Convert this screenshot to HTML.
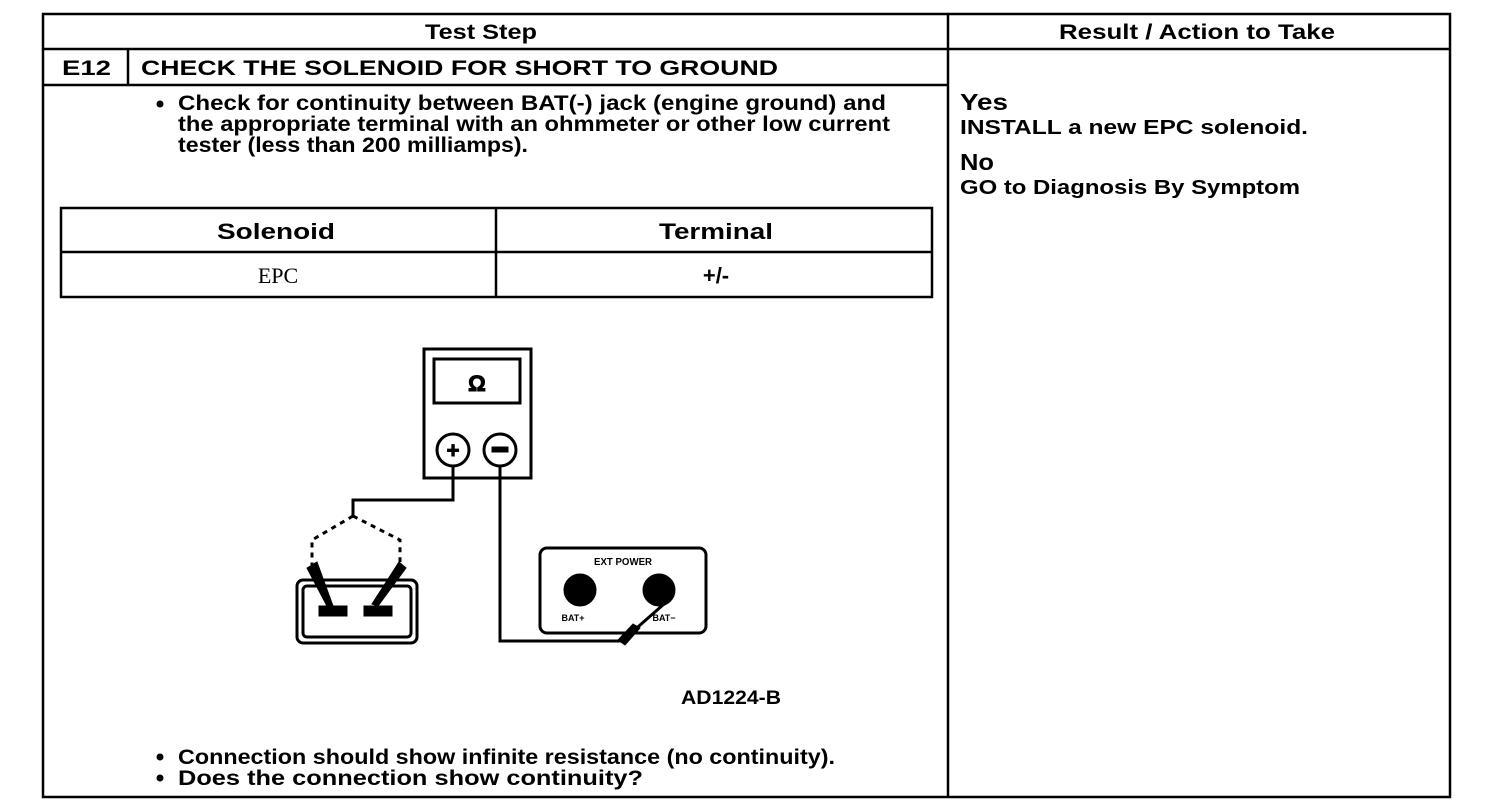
<!DOCTYPE html>
<html><head><meta charset="utf-8"><style>
html,body{margin:0;padding:0;background:#fff;}
svg{display:block;}
text{font-family:"Liberation Sans",Arial,sans-serif;font-weight:bold;fill:#000;}
</style></head><body>
<svg width="1504" height="812" viewBox="0 0 1504 812" xmlns="http://www.w3.org/2000/svg">
<g stroke="#000" fill="none" stroke-width="2.5">
<rect x="43" y="14" width="1407" height="783"/>
<line x1="43" y1="49" x2="1450" y2="49"/>
<line x1="948" y1="14" x2="948" y2="797"/>
<line x1="43" y1="85" x2="948" y2="85"/>
<line x1="128" y1="49" x2="128" y2="85"/>
<rect x="61" y="208" width="871" height="89"/>
<line x1="61" y1="252" x2="932" y2="252"/>
<line x1="496" y1="208" x2="496" y2="297"/>
</g>
<text x="481" y="39" text-anchor="middle" font-size="21" textLength="112" lengthAdjust="spacingAndGlyphs">Test Step</text>
<text x="1197" y="39" text-anchor="middle" font-size="21" textLength="276" lengthAdjust="spacingAndGlyphs">Result / Action to Take</text>
<text x="62" y="75" font-size="21" textLength="49" lengthAdjust="spacingAndGlyphs">E12</text>
<text x="141" y="75" font-size="21" textLength="637" lengthAdjust="spacingAndGlyphs">CHECK THE SOLENOID FOR SHORT TO GROUND</text>
<circle cx="160" cy="104" r="3.5" fill="#000"/>
<text x="178" y="110" font-size="21" textLength="708" lengthAdjust="spacingAndGlyphs">Check for continuity between BAT(-) jack (engine ground) and</text>
<text x="178" y="131" font-size="21" textLength="712" lengthAdjust="spacingAndGlyphs">the appropriate terminal with an ohmmeter or other low current</text>
<text x="178" y="152" font-size="21" textLength="350" lengthAdjust="spacingAndGlyphs">tester (less than 200 milliamps).</text>
<text x="276" y="239" text-anchor="middle" font-size="22" textLength="118" lengthAdjust="spacingAndGlyphs">Solenoid</text>
<text x="716" y="239" text-anchor="middle" font-size="22" textLength="114" lengthAdjust="spacingAndGlyphs">Terminal</text>
<text x="278" y="283" text-anchor="middle" font-size="22" style="font-family:'Liberation Serif',serif;font-weight:normal">EPC</text>
<text x="716" y="283" text-anchor="middle" font-size="22" font-weight="normal">+/-</text>

<g stroke="#000" fill="none" stroke-width="3">
<rect x="424" y="349" width="107" height="129"/>
<rect x="434" y="359" width="86" height="44"/>
<circle cx="453" cy="450" r="16"/>
<circle cx="500" cy="450" r="16"/>
<polyline points="453,466 453,500 353,500 353,516"/>
<polyline points="500,466 500,641 622,641"/>
<path d="M353,516 L312,540 L312,566 M353,516 L400,540 L400,562" stroke-dasharray="5,5"/>
<rect x="297" y="580" width="120" height="63" rx="6"/>
<rect x="303" y="586" width="108" height="51" rx="4"/>
<rect x="540" y="548" width="166" height="85" rx="7"/>
<line x1="622" y1="641" x2="664" y2="604"/>
</g>
<g fill="#000" stroke="#000">
<text x="477" y="391" text-anchor="middle" font-size="22">Ω</text>
<text x="453" y="458" text-anchor="middle" font-size="22">+</text>
<rect x="492" y="447" width="16" height="5"/>
<rect x="319" y="606" width="28" height="10"/>
<rect x="364" y="606" width="28" height="10"/>
<polygon points="307,568 317,562 333,606 328,608" />
<polygon points="399,562 406,568 378,606 372,604" />
<circle cx="580" cy="590" r="16"/>
<circle cx="659" cy="590" r="16"/>
<polygon points="618,640 625,645 640,628 633,624"/>
</g>
<text x="623" y="565" text-anchor="middle" font-size="10" textLength="58" lengthAdjust="spacingAndGlyphs">EXT POWER</text>
<text x="573" y="621" text-anchor="middle" font-size="9">BAT+</text>
<text x="664" y="621" text-anchor="middle" font-size="9">BAT−</text>
<text x="681" y="704" font-size="19" textLength="100" lengthAdjust="spacingAndGlyphs">AD1224-B</text>

<circle cx="160" cy="757" r="3.5" fill="#000"/>
<text x="178" y="764" font-size="21" textLength="657" lengthAdjust="spacingAndGlyphs">Connection should show infinite resistance (no continuity).</text>
<circle cx="160" cy="778" r="3.5" fill="#000"/>
<text x="178" y="785" font-size="21" textLength="465" lengthAdjust="spacingAndGlyphs">Does the connection show continuity?</text>

<text x="960" y="110" font-size="23" textLength="48" lengthAdjust="spacingAndGlyphs">Yes</text>
<text x="960" y="134" font-size="20" textLength="348" lengthAdjust="spacingAndGlyphs">INSTALL a new EPC solenoid.</text>
<text x="960" y="170" font-size="23" textLength="34" lengthAdjust="spacingAndGlyphs">No</text>
<text x="960" y="194" font-size="20" textLength="340" lengthAdjust="spacingAndGlyphs">GO to Diagnosis By Symptom</text>
</svg>
</body></html>
